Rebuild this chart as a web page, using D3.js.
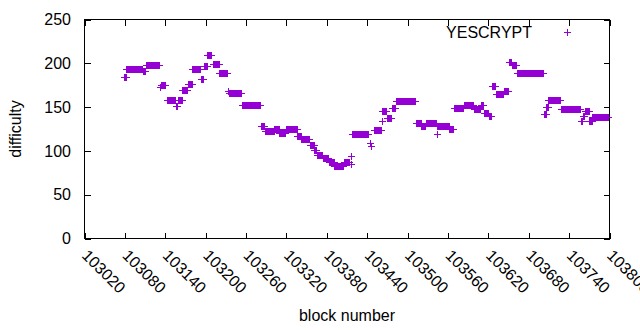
<!DOCTYPE html>
<html>
<head>
<meta charset="utf-8">
<script src="https://cdn.jsdelivr.net/npm/d3@7"></script>
<style>
  body { margin: 0; background: #fff; }
  svg text { font-family: "Liberation Sans", Arial, sans-serif; font-size: 16px; fill: #000; }
</style>
</head>
<body>
<svg id="graphic-svg" width="640" height="330"></svg>
<script>
// runs of blocks that share one difficulty value (first block, last block, difficulty)
var runFirst = [103080,103083,103107,103112,103133,103134,103144,103156,103159,103166,103174,103181,103194,103199,103203,103212,103221,103234,103235,103254,
                103283,103289,103303,103310,103320,103337,103343,103356,103362,103366,103375,103384,103392,103406,103416,103417,103418,103445,103446,103451,
                103462,103463,103470,103477,103483,103513,103521,103528,103544,103545,103563,103569,103584,103599,103610,103614,103621,103626,103632,103644,
                103651,103656,103663,103703,103707,103710,103728,103758,103761,103764,103771,103775];
var runLast  = [103082,103106,103111,103132,103133,103141,103155,103158,103165,103173,103180,103192,103197,103202,103209,103220,103233,103234,103253,103282,
                103288,103302,103309,103319,103336,103342,103355,103361,103365,103373,103383,103391,103405,103414,103416,103417,103442,103445,103446,103461,
                103462,103469,103476,103482,103512,103520,103527,103543,103544,103562,103568,103583,103598,103609,103613,103620,103625,103631,103643,103650,
                103655,103662,103702,103706,103709,103727,103757,103760,103763,103770,103774,103798];
var runDifficulty = [184,193,191,198,172,175,158,151,158,169,176,193,181,196,209,199,188,168,165,152,
                     128,122,125,120,124,116,113,106,100,95,91,87,82,87,94,84,119,108,105,123,
                     134,145,137,148,156,131,128,131,119,128,124,148,152,147,152,143,139,174,164,168,
                     201,197,188,142,150,157,147,134,139,145,134,138];

var xTicks = [103020,103080,103140,103200,103260,103320,103380,103440,103500,103560,103620,103680,103740,103800];
var yTicks = [0,50,100,150,200,250];
var seriesName = "YESCRYPT";

function init() {
  var svg = d3.select("#graphic-svg");
  var plot = { left: 84.5, right: 609.5, top: 19.5, bottom: 238.5 };
  var color = "#9400d3";

  // expand the runs into one point per block
  var points = [];
  for (var r = 0; r < runFirst.length; r++) {
    for (var b = runFirst[r]; b <= runLast[r]; b++) {
      points.push({ block: b, diff: runDifficulty[r] });
    }
  }

  var x = d3.scaleLinear().domain([103020, 103800]).range([plot.left, plot.right]);
  var y = d3.scaleLinear().domain([0, 250]).range([plot.bottom, plot.top]);

  //////////////////////////////////////////////////////////////////
  // Axes
  var gx = svg.append("g")
     .attr("transform", "translate(0," + plot.bottom + ")")
     .call(d3.axisBottom(x).tickValues(xTicks).tickSize(-6).tickFormat(d3.format("d")));
  gx.selectAll("text")
     .attr("x", 0)
     .attr("y", 0)
     .attr("dy", "0.35em")
     .attr("transform", "translate(0,14) rotate(45)")
     .style("text-anchor", "start");

  svg.append("g")
     .attr("transform", "translate(" + plot.left + ",0)")
     .call(d3.axisLeft(y).tickValues(yTicks).tickSize(-6).tickPadding(13.5));

  // mirrored tics
  svg.append("g")
     .attr("transform", "translate(0," + plot.top + ")")
     .call(d3.axisTop(x).tickValues(xTicks).tickSize(-6).tickFormat(""));
  svg.append("g")
     .attr("transform", "translate(" + plot.right + ",0)")
     .call(d3.axisRight(y).tickValues(yTicks).tickSize(-6).tickFormat(""));

  svg.selectAll(".domain").remove();
  svg.selectAll(".tick line").attr("stroke", "#000").attr("shape-rendering", "crispEdges");
  svg.selectAll(".tick text").style("font-family", null).style("font-size", null).attr("fill", "#000");

  // border
  svg.append("rect")
     .attr("x", plot.left)
     .attr("y", plot.top)
     .attr("width", plot.right - plot.left)
     .attr("height", plot.bottom - plot.top)
     .attr("fill", "none")
     .attr("stroke", "#000")
     .attr("shape-rendering", "crispEdges");

  // axis labels
  svg.append("text")
     .attr("transform", "translate(21," + ((plot.top + plot.bottom) / 2) + ") rotate(-90)")
     .style("text-anchor", "middle")
     .text("difficulty");
  svg.append("text")
     .attr("x", (plot.left + plot.right) / 2)
     .attr("y", 321)
     .style("text-anchor", "middle")
     .text("block number");

  //////////////////////////////////////////////////////////////////
  // Points
  var plus = "M-3.5,0H3.5M0,-3.5V3.5";
  svg.append("g")
     .selectAll("path")
     .data(points)
     .enter()
     .append("path")
     .attr("transform", function(d) { return "translate(" + x(d.block) + "," + y(d.diff) + ")"; })
     .attr("d", plus)
     .attr("stroke", color)
     .attr("stroke-width", 1)
     .attr("fill", "none")
     .attr("shape-rendering", "crispEdges");

  // Key
  svg.append("text")
     .attr("x", 532)
     .attr("y", 37.5)
     .style("text-anchor", "end")
     .text(seriesName);
  svg.append("path")
     .attr("transform", "translate(567.5,32.5)")
     .attr("d", plus)
     .attr("stroke", color)
     .attr("fill", "none")
     .attr("shape-rendering", "crispEdges");
};

init();
</script>
</body>
</html>
